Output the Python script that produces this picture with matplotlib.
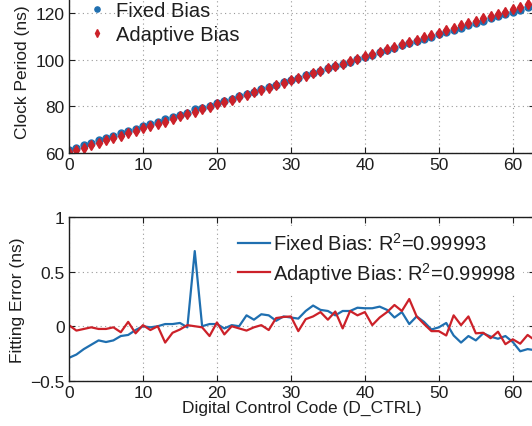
import matplotlib
matplotlib.use("Agg")
import matplotlib.pyplot as plt
import numpy as np

plt.rcParams['font.family'] = ['Liberation Sans', 'DejaVu Sans']
plt.rcParams['mathtext.fontset'] = 'custom'
plt.rcParams['mathtext.rm'] = 'Liberation Sans'
plt.rcParams['mathtext.default'] = 'regular'

# ---------------- data ----------------
d_ctrl = list(range(64))

fixed_period = [61.31, 62.33, 63.36, 64.39, 65.41, 66.38, 67.38, 68.41, 69.40, 70.43,
                71.45, 72.43, 73.42, 74.43, 75.41, 76.41, 77.35, 79.04, 79.33, 80.34,
                81.32, 82.27, 83.28, 84.26, 85.34, 86.29, 87.32, 88.30, 89.23, 90.26,
                91.23, 92.21, 93.26, 94.30, 95.24, 96.22, 97.16, 98.19, 99.17, 100.19,
                101.17, 102.15, 103.15, 104.11, 105.02, 106.06, 106.93, 107.99, 108.92, 109.84,
                110.84, 111.87, 112.74, 113.66, 114.70, 115.65, 116.70, 117.65, 118.62, 119.63,
                120.56, 121.46, 122.46, 123.44]

adaptive_period = [60.31, 61.29, 62.33, 63.37, 64.38, 65.40, 66.44, 67.42, 68.54, 69.46,
                   70.56, 71.54, 72.60, 73.48, 74.59, 75.65, 76.71, 77.73, 78.74, 79.69,
                   80.84, 81.75, 82.85, 83.86, 84.86, 85.92, 86.96, 87.94, 89.08, 90.11,
                   91.14, 92.03, 93.17, 94.22, 95.28, 96.24, 97.34, 98.21, 99.39, 100.38,
                   101.43, 102.34, 103.43, 104.51, 105.60, 106.57, 107.70, 108.57, 109.52, 110.48,
                   111.51, 112.49, 113.70, 114.64, 115.74, 116.61, 117.64, 118.62, 119.70, 120.61,
                   121.68, 122.67, 123.77, 124.75]

fixed_error = [-0.29, -0.26, -0.21, -0.17, -0.13, -0.145, -0.13, -0.09, -0.08, -0.035,
               0.0, -0.01, 0.0, 0.02, 0.02, 0.03, -0.01, 0.69, 0.0, 0.02,
               0.02, -0.02, 0.01, 0.0, 0.10, 0.06, 0.11, 0.10, 0.05, 0.09,
               0.08, 0.07, 0.14, 0.19, 0.15, 0.14, 0.10, 0.14, 0.14, 0.17,
               0.165, 0.165, 0.18, 0.15, 0.08, 0.13, 0.02, 0.09, 0.04, -0.03,
               -0.01, 0.03, -0.085, -0.15, -0.09, -0.13, -0.065, -0.095, -0.115, -0.09,
               -0.145, -0.23, -0.21, -0.22]

adaptive_error = [0.01, -0.04, -0.025, -0.01, -0.025, -0.025, -0.01, -0.055, 0.04, -0.065,
                  0.01, -0.035, 0.0, -0.15, -0.06, -0.03, 0.01, 0.0, -0.01, -0.09,
                  0.035, -0.075, 0.0, -0.02, -0.04, -0.01, 0.01, -0.035, 0.075, 0.085,
                  0.09, -0.045, 0.065, 0.09, 0.13, 0.06, 0.135, -0.02, 0.14, 0.10,
                  0.13, 0.01, 0.08, 0.13, 0.195, 0.14, 0.25, 0.09, 0.02, -0.045,
                  -0.045, -0.085, 0.10, 0.01, 0.09, -0.065, -0.06, -0.11, -0.05, -0.165,
                  -0.12, -0.16, -0.08, -0.13]

x_ticks = [0, 10, 20, 30, 40, 50, 60]
top_yticks = [60, 80, 100, 120]
bot_yticks = [-0.5, 0, 0.5, 1]
bot_yticklabels = ['\u22120.5', '0', '0.5', '1']

fixed_r2 = '0.99993'
adaptive_r2 = '0.99998'

# ---------------- style ----------------
BLUE = '#1f6fb0'
RED = '#cc2129'
INK = '#1e1e1e'

W, H = 532, 427
fig = plt.figure(figsize=(W / 100, H / 100), dpi=100)

left = 69 / W
width = (535 - 69) / W
ax_h = 163.4 / H
ax1 = fig.add_axes([left, (H - 154) / H, width, ax_h])
ax2 = fig.add_axes([left, (H - 381.7) / H, width, ax_h])

for ax in (ax1, ax2):
    ax.tick_params(direction='in', length=4.5, width=0.8, top=True, right=True,
                   labelsize=12.5, pad=3, colors=INK)
    for s in ax.spines.values():
        s.set_linewidth(1.0)
        s.set_color(INK)
    ax.grid(True, linestyle=(0, (1, 3)), color='#999999', linewidth=0.8)
    ax.set_axisbelow(True)
    ax.set_xlim(0, 63)
    ax.set_xticks(x_ticks)

# top panel
ax1.plot(d_ctrl, fixed_period, linestyle='none', marker='o', ms=5.0,
         color=BLUE, label='Fixed Bias')
ax1.plot(d_ctrl, adaptive_period, linestyle='none', marker='d', ms=5.4,
         color=RED, label='Adaptive Bias')
ax1.set_ylim(60, 130)
ax1.set_yticks(top_yticks)
ax1.set_ylabel('Clock Period (ns)', fontsize=12.5, color=INK, labelpad=4)
leg1 = ax1.legend(loc='upper left', bbox_to_anchor=(0.025, 0.978), frameon=False,
                  fontsize=14.5, handlelength=0.8, handletextpad=0.56,
                  borderaxespad=0, labelspacing=0.25, markerscale=0.75)
for t in leg1.get_texts():
    t.set_color(INK)

# bottom panel
ax2.plot(d_ctrl, fixed_error, color=BLUE, lw=1.6,
         label='Fixed Bias: R$^2$=' + fixed_r2)
ax2.plot(d_ctrl, adaptive_error, color=RED, lw=1.6,
         label='Adaptive Bias: R$^2$=' + adaptive_r2)
ax2.set_ylim(-0.5, 1)
ax2.set_yticks(bot_yticks)
ax2.set_yticklabels(bot_yticklabels)
ax2.set_ylabel('Fitting Error (ns)', fontsize=12.5, color=INK, labelpad=4)
ax2.set_xlabel('Digital Control Code (D_CTRL)', fontsize=12.5, color=INK, labelpad=0)
leg2 = ax2.legend(loc='upper left', bbox_to_anchor=(0.35, 0.948), frameon=True,
                  fontsize=14.5, handlelength=1.6, handletextpad=0.15,
                  borderaxespad=0, borderpad=0.3, labelspacing=0.3, fancybox=False)
leg2.get_frame().set_edgecolor('white')
leg2.get_frame().set_facecolor('white')
leg2.get_frame().set_alpha(1)
for t in leg2.get_texts():
    t.set_color(INK)

fig.savefig('out.png', dpi=100)
